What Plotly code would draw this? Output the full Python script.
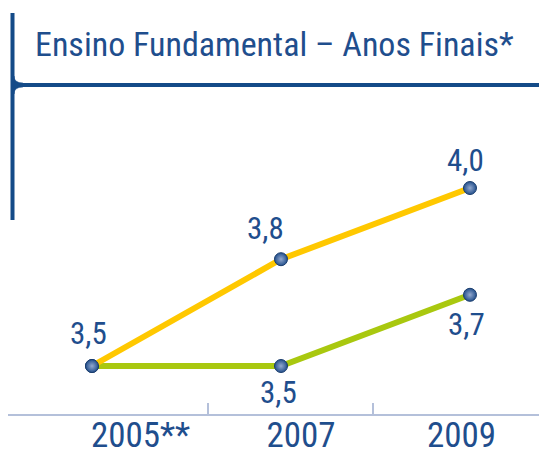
import plotly.graph_objects as go

# ---- data ----
years = [2005, 2007, 2009]
year_labels = ["2005**", "2007", "2009"]
ideb_observado = [3.5, 3.8, 4.0]
metas = [3.5, 3.5, 3.7]
title_text = "Ensino Fundamental – Anos Finais*"

W, H = 547, 450
OFF = 8  # page body margin in the browser
FONT = "Roboto Condensed, Liberation Sans Narrow, DejaVu Sans Condensed, Arial Narrow, sans-serif"
NAVY = "#144b88"
TXT = "#1f4e8d"
AXC = "#b4c0da"


def fmt(v):
    return f"{v:.1f}".replace(".", ",")


def px(x):
    return (x - OFF) / W


def py(y):
    return 1 - (y - OFF) / H


# label offsets (pixels) relative to their point
ideb_text = [fmt(v) for v in ideb_observado]
ideb_shift = [(-4, 33), (-15, 31), (-4, 28)]
meta_text = [fmt(v) for v in metas]
meta_shift = [None, (-2, -26), (-3, -30)]  # first point shared, labelled once

marker = dict(size=13, color="#24508c", line=dict(color="#1a3d6e", width=1),
              gradient=dict(type="radial", color="#93a9cf"))

fig = go.Figure()
fig.add_trace(go.Scatter(
    x=years, y=metas, mode="lines+markers", name="Metas",
    line=dict(color="#a9c80f", width=6), marker=marker,
    showlegend=False, hoverinfo="skip", cliponaxis=False))
fig.add_trace(go.Scatter(
    x=years, y=ideb_observado, mode="lines+markers", name="IDEB observado",
    line=dict(color="#ffc800", width=6), marker=marker,
    showlegend=False, hoverinfo="skip", cliponaxis=False))
# helper traces for overlay axes
fig.add_trace(go.Scatter(x=[0, 1, 2], y=[None, None, None], xaxis="x2",
                         showlegend=False, hoverinfo="skip"))
fig.add_trace(go.Scatter(x=[0, 1, 2], y=[None, None, None], xaxis="x3",
                         showlegend=False, hoverinfo="skip"))

for xs, ys, ts, sh in [(years, ideb_observado, ideb_text, ideb_shift),
                       (years, metas, meta_text, meta_shift)]:
    for xv, yv, tv, s in zip(xs, ys, ts, sh):
        if s is None:
            continue
        fig.add_annotation(x=xv, y=yv, text=tv, showarrow=False,
                           xanchor="center", yanchor="middle",
                           xshift=s[0], yshift=s[1],
                           font=dict(family=FONT, size=31, color=TXT))

dom = [0, (540 - OFF) / W]
axis_y = (H - (414 - OFF)) / H
fig.update_layout(
    width=W, height=H, template="none",
    paper_bgcolor="white", plot_bgcolor="rgba(0,0,0,0)",
    margin=dict(l=0, r=0, t=0, b=0),
    xaxis=dict(domain=dom, range=[2004.111, 2009.741], visible=False, automargin=False),
    xaxis2=dict(overlaying="x", anchor="free", position=axis_y + 3 / H, side="bottom",
                range=[-0.8255, 2.489],
                tickmode="array", tickvals=[0, 1, 2], ticktext=year_labels,
                ticks="", showline=False,
                showgrid=False, zeroline=False, automargin=False,
                tickfont=dict(family=FONT, size=35, color=TXT)),
    xaxis3=dict(overlaying="x", anchor="y", side="bottom", range=[-0.712, 2.512],
                tickmode="array", tickvals=[0.5, 1.5], ticks="inside", ticklen=11,
                tickwidth=2, tickcolor=AXC, showticklabels=False,
                showline=True, linecolor=AXC, linewidth=2,
                showgrid=False, zeroline=False, automargin=False),
    yaxis=dict(domain=[axis_y, (H - (100 - OFF)) / H],
               range=[3.3652, 4.2472], visible=False, automargin=False),
)

# title
fig.add_annotation(text=title_text, xref="paper", yref="paper",
                   x=px(33), y=py(44), xanchor="left", yanchor="middle",
                   showarrow=False, font=dict(family=FONT, size=34, color=TXT))

# bracket frame
line = dict(color=NAVY, width=4)
fig.add_shape(type="line", xref="paper", yref="paper",
              x0=px(12.5), y0=py(13), x1=px(12.5), y1=py(220), line=line)
fig.add_shape(type="line", xref="paper", yref="paper",
              x0=px(12.5), y0=py(85), x1=px(560), y1=py(85), line=line)
flare = (f"M {px(14)},{py(76)} Q {px(14)},{py(83)} {px(23)},{py(83)} "
         f"L {px(23)},{py(87)} Q {px(14)},{py(87)} {px(14)},{py(94)} Z")
fig.add_shape(type="path", xref="paper", yref="paper", path=flare,
              fillcolor=NAVY, line=dict(color=NAVY, width=0.5))

fig.write_html("out.html")
